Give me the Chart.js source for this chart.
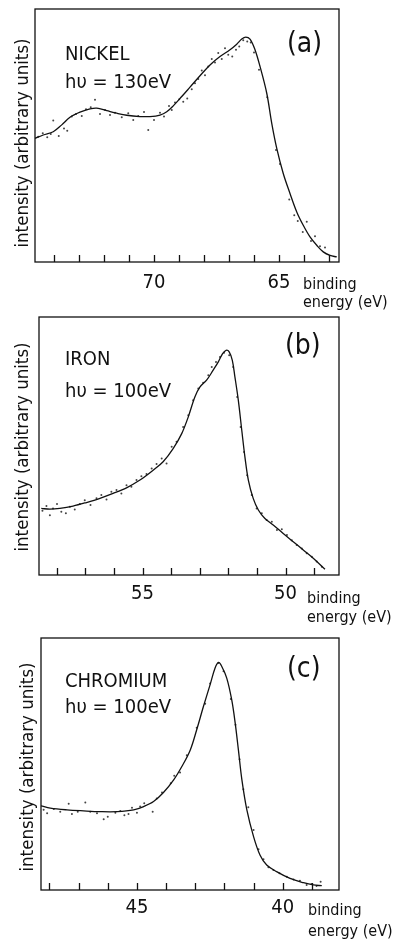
<!DOCTYPE html>
<html>
<head>
<meta charset="utf-8">
<script src="https://cdn.jsdelivr.net/npm/chart.js@4.4.0/dist/chart.umd.min.js"></script>
<style>
  body { margin: 0; background: #fff; }
  #page { position: relative; width: 407px; height: 941px; overflow: hidden;
          font-family: "DejaVu Sans Condensed", "DejaVu Sans", sans-serif; color: #111; }
  canvas { position: absolute; left: 0; }
  .t { position: absolute; white-space: nowrap; line-height: 1; }
  .ylab { position: absolute; white-space: nowrap; font-size: 18.5px; line-height: 1;
          transform: translate(-50%, -50%) rotate(-90deg); }
</style>
</head>
<body>
<div id="page">
  <canvas id="nickel" width="407" height="300" style="top:0"></canvas>
  <canvas id="iron" width="407" height="320" style="top:300px"></canvas>
  <canvas id="chromium" width="407" height="321" style="top:620px"></canvas>

  <div class="ylab" style="left:22px;top:143px">intensity (arbitrary units)</div>
  <div class="t" style="left:65px;top:43px;font-size:20px">NICKEL</div>
  <div class="t" style="left:65px;top:71px;font-size:20px">hυ = 130eV</div>
  <div class="t" style="left:287px;top:29px;font-size:28px">(a)</div>
  <div class="t" style="left:303px;top:276px;font-size:16px">binding</div>
  <div class="t" style="left:303px;top:294px;font-size:16px">energy (eV)</div>

  <div class="ylab" style="left:22px;top:447px">intensity (arbitrary units)</div>
  <div class="t" style="left:65px;top:348px;font-size:20px">IRON</div>
  <div class="t" style="left:65px;top:380px;font-size:20px">hυ = 100eV</div>
  <div class="t" style="left:285px;top:331px;font-size:28px">(b)</div>
  <div class="t" style="left:307px;top:590px;font-size:16px">binding</div>
  <div class="t" style="left:307px;top:609px;font-size:16px">energy (eV)</div>

  <div class="ylab" style="left:27px;top:767px">intensity (arbitrary units)</div>
  <div class="t" style="left:65px;top:670px;font-size:20px">CHROMIUM</div>
  <div class="t" style="left:65px;top:696px;font-size:20px">hυ = 100eV</div>
  <div class="t" style="left:287px;top:654px;font-size:28px">(c)</div>
  <div class="t" style="left:308px;top:902px;font-size:16px">binding</div>
  <div class="t" style="left:308px;top:923px;font-size:16px">energy (eV)</div>
</div>
<script>
// binding energy (eV) and intensity (0 = frame bottom, 100 = frame top)
const nickelFitE = [74.76, 74.43, 74.03, 73.69, 73.36, 72.96, 72.56, 72.29, 71.89, 71.49, 71.09, 70.56, 70.16, 69.76,
  69.49, 69.23, 68.89, 68.56, 68.16, 67.76, 67.36, 66.96, 66.69, 66.49, 66.33, 66.16, 65.96, 65.76, 65.49, 65.29,
  65.09, 64.83, 64.56, 64.29, 64.03, 63.76, 63.49, 63.23, 62.96, 62.69];
const nickelFitI = [48.9, 50.2, 51.5, 54.2, 57.2, 59.2, 60.5, 60.8, 59.8, 58.8, 58.0, 57.5, 57.5, 58.1,
  59.4, 61.7, 65.4, 69.1, 73.6, 77.9, 81.2, 83.9, 86.1, 88.1, 88.9, 88.1, 83.9, 77.3, 66.7, 54.8,
  44.9, 35.0, 27.1, 19.8, 14.5, 9.9, 6.6, 4.0, 2.6, 2.0];
const nickelDotE = [74.63, 74.45, 74.27, 74.13, 74.03, 73.81, 73.60, 73.47, 73.29, 73.12, 72.89, 72.72, 72.53, 72.36,
  72.16, 71.96, 71.76, 71.56, 71.29, 71.03, 70.83, 70.63, 70.40, 70.23, 70.00, 69.76, 69.60, 69.40, 69.29, 69.16,
  68.99, 68.83, 68.67, 68.49, 68.36, 68.23, 68.09, 67.96, 67.83, 67.69, 67.56, 67.43, 67.29, 67.16, 67.03, 66.87,
  66.72, 66.59, 66.43, 66.27, 66.13, 66.00, 65.80, 65.47, 65.12, 64.96, 64.59, 64.39, 64.25, 64.05, 63.89, 63.72,
  63.56, 63.36, 63.16];
const nickelDotI = [49.5, 50.9, 49.3, 50.6, 55.9, 49.8, 52.8, 51.9, 57.5, 58.5, 57.7, 60.4, 61.2, 64.1,
  58.5, 60.1, 58.1, 59.0, 57.2, 58.8, 56.1, 57.7, 59.3, 52.2, 56.1, 59.0, 57.5, 61.7, 60.1, 63.0,
  64.3, 63.3, 64.6, 68.3, 70.7, 72.3, 75.7, 73.8, 77.3, 80.2, 78.9, 82.6, 80.2, 84.5, 81.9, 81.2,
  83.9, 85.2, 87.6, 87.2, 86.8, 82.8, 76.0, 65.1, 44.3, 38.7, 24.7, 18.5, 16.2, 11.9, 15.9, 8.3,
  10.2, 6.2, 5.7];

const ironFitE = [58.54, 58.24, 57.89, 57.43, 56.96, 56.49, 56.03, 55.56, 55.09, 54.63, 54.28, 53.93, 53.63, 53.40,
  53.17, 52.99, 52.76, 52.53, 52.35, 52.20, 52.08, 51.97, 51.86, 51.77, 51.65, 51.53, 51.42, 51.30, 51.13, 50.95,
  50.72, 50.43, 50.08, 49.73, 49.38, 49.03, 48.62];
const ironFitI = [25.8, 25.5, 25.8, 26.7, 28.1, 29.7, 31.6, 33.8, 36.8, 40.6, 43.9, 49.0, 54.8, 61.3,
  69.0, 72.9, 75.5, 79.4, 82.6, 85.8, 87.1, 86.5, 83.2, 76.8, 67.7, 56.1, 45.8, 36.8, 29.7, 25.2,
  21.9, 19.4, 16.1, 12.9, 9.7, 6.5, 2.2];
const ironDotE = [58.50, 58.36, 58.24, 58.13, 57.99, 57.84, 57.68, 57.54, 57.37, 57.19, 57.02, 56.82, 56.61, 56.44,
  56.26, 56.09, 55.91, 55.74, 55.56, 55.39, 55.21, 55.04, 54.86, 54.68, 54.51, 54.33, 54.16, 53.98, 53.81, 53.58,
  53.40, 53.23, 53.05, 52.88, 52.70, 52.58, 52.43, 52.29, 52.15, 51.97, 51.83, 51.69, 51.57, 51.45, 51.34, 51.18,
  51.01, 50.83, 50.66, 50.48, 50.30, 50.13, 49.95, 49.78, 49.61, 49.43, 49.26, 49.08, 48.91, 48.73];
const ironDotI = [24.9, 26.7, 23.2, 25.8, 27.5, 24.5, 23.9, 26.5, 25.4, 27.5, 29.0, 27.1, 29.7, 31.0,
  29.3, 32.3, 32.9, 31.6, 34.8, 34.2, 36.8, 38.3, 39.1, 41.3, 43.0, 45.2, 43.2, 49.7, 51.6, 57.4,
  61.9, 67.7, 72.3, 74.5, 77.4, 80.6, 82.6, 84.5, 86.1, 85.2, 80.6, 69.0, 57.4, 47.7, 38.7, 31.0,
  25.8, 23.9, 21.3, 20.6, 17.4, 17.7, 15.5, 13.5, 11.6, 10.3, 8.4, 7.1, 5.2, 3.2];

const chromiumFitE = [48.29, 47.97, 47.40, 46.83, 46.26, 45.68, 45.11, 44.77, 44.43, 44.09, 43.74, 43.46, 43.17, 42.95,
  42.72, 42.49, 42.32, 42.20, 42.09, 41.92, 41.75, 41.63, 41.52, 41.40, 41.23, 41.00, 40.78, 40.55, 40.21, 39.75,
  39.29, 38.95, 38.66];
const chromiumFitI = [33.4, 32.5, 31.8, 31.4, 31.1, 31.1, 31.8, 33.1, 35.1, 38.7, 43.7, 49.0, 55.6, 63.6,
  72.8, 81.5, 88.1, 90.3, 88.7, 84.1, 75.5, 66.2, 55.6, 43.7, 31.8, 21.2, 13.9, 9.9, 7.3, 4.6,
  2.9, 2.0, 1.7];
const chromiumDotE = [48.20, 48.08, 47.85, 47.63, 47.34, 47.23, 47.03, 46.77, 46.60, 46.37, 46.14, 46.00, 45.74, 45.57,
  45.43, 45.29, 45.17, 45.00, 44.89, 44.75, 44.46, 44.32, 44.14, 43.84, 43.72, 43.52, 43.29, 42.95, 42.66, 42.49,
  42.20, 42.03, 41.78, 41.62, 41.48, 41.35, 41.18, 41.00, 40.83, 40.66, 40.49, 40.32, 40.11, 39.86, 39.63, 39.41,
  39.18, 39.01, 38.84, 38.70];
const chromiumDotI = [31.8, 30.5, 32.1, 31.1, 34.2, 30.2, 31.1, 34.7, 31.1, 30.5, 28.1, 29.1, 30.7, 31.3,
  29.7, 30.2, 32.6, 30.7, 33.1, 34.4, 31.1, 36.3, 38.7, 42.4, 45.3, 46.6, 53.5, 64.4, 73.9, 81.9,
  90.1, 86.8, 75.8, 65.6, 51.9, 40.0, 32.8, 23.8, 16.2, 12.2, 9.0, 7.9, 6.6, 5.3, 4.2, 3.7,
  2.0, 2.4, 1.6, 3.3];

// axis ranges (eV) and the labelled ticks
const nickelRange = [62.6, 74.76];
const ironRange = [48.13, 58.62];
const chromiumRange = [38.07, 48.29];
const nickelLabels = [70, 65];
const ironLabels = [55, 50];
const chromiumLabels = [45, 40];

const frame = {
  id: "frame",
  afterDraw(chart) {
    const { ctx, chartArea: a, scales: { x } } = chart;
    ctx.save();
    ctx.strokeStyle = "#111";
    ctx.lineWidth = 1.3;
    ctx.strokeRect(a.left, a.top, a.right - a.left, a.bottom - a.top);
    ctx.beginPath();
    x.ticks.forEach((t) => {
      const px = Math.round(x.getPixelForValue(t.value)) + 0.5;
      ctx.moveTo(px, a.bottom);
      ctx.lineTo(px, a.bottom - 7);
    });
    ctx.stroke();
    ctx.restore();
  },
};

function panel(id, fitE, fitI, dotE, dotI, range, labels, padding, labelPad) {
  const ctx = document.getElementById(id).getContext("2d");
  return new Chart(ctx, {
    type: "scatter",
    data: {
      datasets: [
        {
          type: "line",
          data: fitE.map((e, i) => ({ x: e, y: fitI[i] })),
          borderColor: "#111",
          borderWidth: 1.3,
          pointRadius: 0,
          tension: 0.35,
          fill: false,
        },
        {
          data: dotE.map((e, i) => ({ x: e, y: dotI[i] })),
          backgroundColor: "#444",
          borderWidth: 0,
          pointRadius: 1,
        },
      ],
    },
    options: {
      responsive: false,
      animation: false,
      devicePixelRatio: 1,
      layout: { padding },
      plugins: { legend: { display: false }, tooltip: { enabled: false } },
      scales: {
        x: {
          type: "linear",
          reverse: true,
          min: range[0],
          max: range[1],
          grid: { display: false, drawTicks: false },
          border: { display: false },
          afterFit: (s) => { s.height = 30; },
          ticks: {
            stepSize: 1,
            includeBounds: false,
            autoSkip: false,
            maxRotation: 0,
            padding: labelPad,
            color: "#111",
            font: { family: "DejaVu Sans Condensed, DejaVu Sans, sans-serif", size: 20 },
            callback: (v) => (labels.includes(v) ? String(v) : ""),
          },
        },
        y: { display: false, min: 0, max: 100 },
      },
    },
    plugins: [frame],
  });
}

panel("nickel", nickelFitE, nickelFitI, nickelDotE, nickelDotI, nickelRange, nickelLabels,
  { left: 35, right: 68, top: 9, bottom: 8 }, 9);
panel("iron", ironFitE, ironFitI, ironDotE, ironDotI, ironRange, ironLabels,
  { left: 39, right: 68, top: 17, bottom: 15 }, 7);
panel("chromium", chromiumFitE, chromiumFitI, chromiumDotE, chromiumDotI, chromiumRange, chromiumLabels,
  { left: 41, right: 68, top: 18, bottom: 21 }, 6);
</script>
</body>
</html>
